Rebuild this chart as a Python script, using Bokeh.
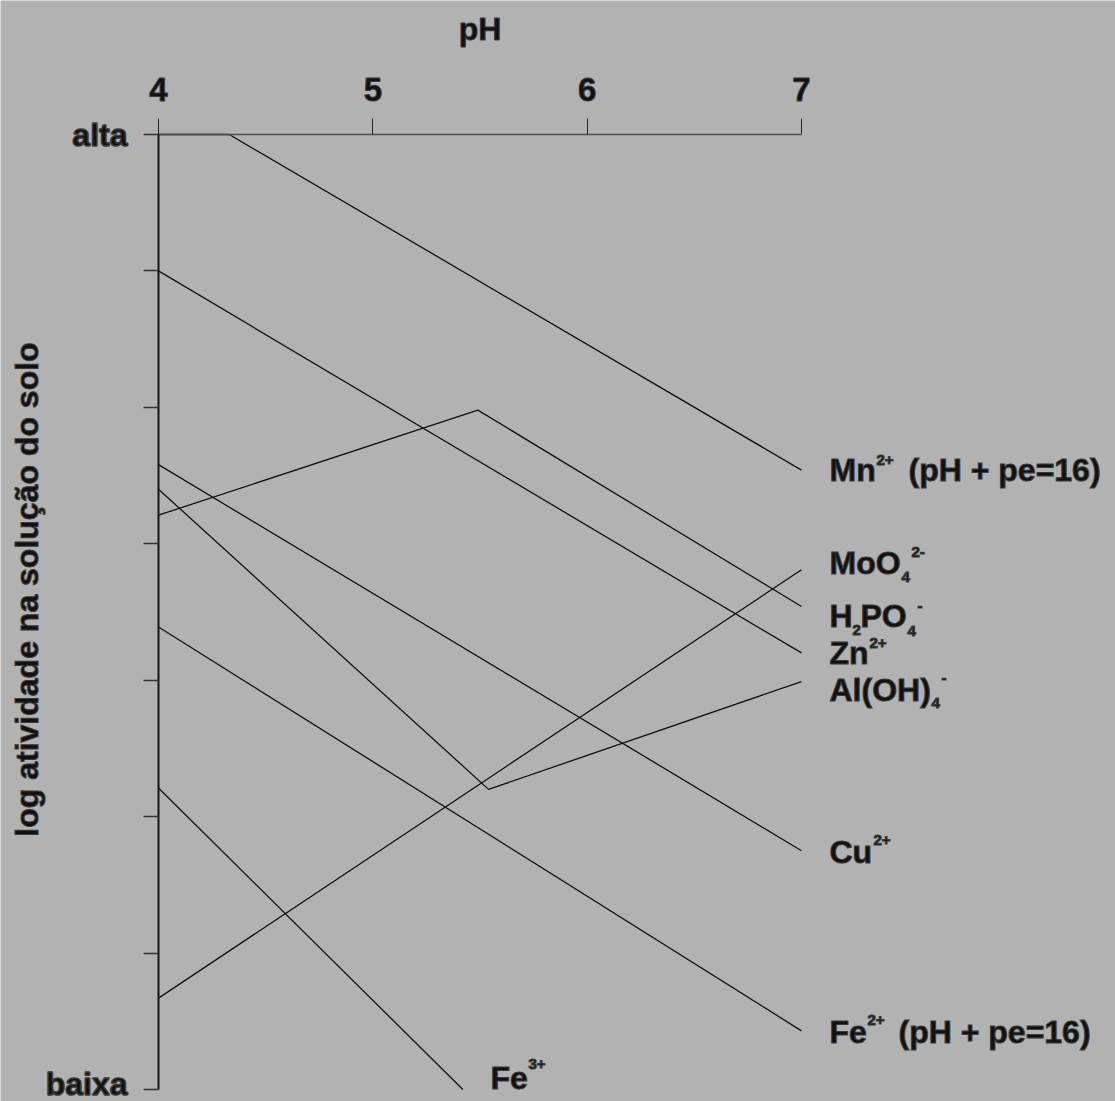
import numpy as np
from bokeh.plotting import figure
from bokeh.models import Range1d, FixedTicker, Label
from bokeh.embed import file_html
from bokeh.resources import INLINE

# ---- data ----
ph_ticks = [4, 5, 6, 7]
y_ticks = [0, 1, 2, 3, 4, 5, 6, 7]
y_tick_text = {0: "baixa", 7: "alta"}

mn_ph = [4.0, 4.33, 7.0]
mn_y = [7.0, 7.0, 4.54]
h2po4_ph = [4.0, 5.49, 7.0]
h2po4_y = [4.21, 4.98, 3.54]
zn_ph = [4.0, 7.0]
zn_y = [6.0, 3.20]
cu_ph = [4.0, 7.0]
cu_y = [4.58, 1.75]
al_ph = [4.0, 5.54, 7.0]
al_y = [4.40, 2.20, 2.99]
moo4_ph = [4.0, 7.0]
moo4_y = [0.67, 3.81]
fe2_ph = [4.0, 7.0]
fe2_y = [3.39, 0.43]
fe3_ph = [4.0, 5.42]
fe3_y = [2.21, 0.0]

series = [(mn_ph, mn_y), (h2po4_ph, h2po4_y), (zn_ph, zn_y), (cu_ph, cu_y),
          (al_ph, al_y), (moo4_ph, moo4_y), (fe2_ph, fe2_y), (fe3_ph, fe3_y)]

FONT = "Liberation Sans"
BG = "#b2b2b2"
INK = "#111111"
HALO = "#3a3a3a"
W, H = 1115, 1101

# layout: pixel positions of the axes (pH 4..7 and low..high)
AX_L, AX_R, AX_T, AX_B = 158.0, 801.0, 134.0, 1089.0
sx = (AX_R - AX_L) / 3.0
sy = (AX_B - AX_T) / 7.0
x_start = 4 - AX_L / sx
x_end = 4 + (W - AX_L) / sx
y_end = 7 + AX_T / sy
y_start = -(H - AX_B) / sy

def dx(px):
    return 4 + (px - AX_L) / sx
def dy(py):
    return (AX_B - py) / sy

p = figure(width=W, height=H,
           x_range=Range1d(x_start, x_end), y_range=Range1d(y_start, y_end),
           x_axis_location="above",
           output_backend="svg", toolbar_location=None,
           min_border=0, min_border_left=0, min_border_right=0,
           min_border_top=0, min_border_bottom=0)
p.background_fill_color = BG
p.border_fill_color = BG
p.outline_line_color = None
p.grid.visible = False

# x axis (top)
xa = p.xaxis[0]
xa.fixed_location = 7
xa.bounds = (4, 7)
xa.ticker = FixedTicker(ticks=ph_ticks)
xa.axis_label = "pH"
xa.axis_label_text_font = FONT
xa.axis_label_text_font_style = "bold"
xa.axis_label_text_font_size = "32px"
xa.axis_label_text_color = INK
xa.axis_label_text_outline_color = HALO
xa.axis_label_standoff = 28
xa.major_label_text_font = FONT
xa.major_label_text_font_style = "bold"
xa.major_label_text_font_size = "33px"
xa.major_label_text_color = INK
xa.major_label_text_outline_color = HALO
xa.major_label_standoff = 18
xa.major_tick_out = 16
xa.major_tick_in = 0
xa.minor_tick_line_color = None
xa.axis_line_color = "#505050"
xa.axis_line_width = 1.5
xa.major_tick_line_color = "#222222"

# y axis (left)
ya = p.yaxis[0]
ya.fixed_location = 4
ya.bounds = (0, 7)
ya.ticker = FixedTicker(ticks=y_ticks)
ya.major_label_overrides = {t: y_tick_text.get(t, "") for t in y_ticks}
ya.major_label_text_font = FONT
ya.major_label_text_font_style = "bold"
ya.major_label_text_font_size = "32px"
ya.major_label_text_color = INK
ya.major_label_text_outline_color = HALO
ya.major_label_standoff = 16
ya.major_tick_out = 15
ya.major_tick_in = 0
ya.minor_tick_line_color = None
ya.axis_line_color = "#151515"
ya.axis_line_width = 2
ya.major_tick_line_color = "#333333"
ya.major_tick_line_width = 1.5

for xs, ys in series:
    p.line(xs, ys, line_color=INK, line_width=1.3)

# y axis title
p.add_layout(Label(x=dx(26), y=dy(589), text="log atividade na solução do solo",
                   angle=np.pi / 2, text_align="center", text_baseline="middle",
                   text_font=FONT, text_font_style="bold", text_font_size="32px",
                   text_color=INK, text_outline_color=HALO))

# species labels: (left x, baseline y, pieces[(text, dx, rise, size)])
species_labels = [
    (829, 480, [("Mn", 0, 0, 32), ("2+", 47, 15, 15), ("(pH + pe=16)", 79, 0, 32)]),
    (829, 573, [("MoO", 0, 0, 32), ("4", 72, -9, 15), ("2-", 82, 16, 15)]),
    (829, 626, [("H", 0, 0, 32), ("2", 23, -9, 15), ("PO", 31, 0, 32), ("4", 78, -10, 15), ("-", 88, 15, 15)]),
    (829, 663, [("Zn", 0, 0, 32), ("2+", 40, 15, 15)]),
    (829, 700, [("Al(OH)", 0, 0, 32), ("4", 102, -8, 15), ("-", 112, 17, 15)]),
    (829, 862, [("Cu", 0, 0, 32), ("2+", 44, 17, 15)]),
    (829, 1042, [("Fe", 0, 0, 32), ("2+", 38, 17, 15), ("(pH + pe=16)", 69, 0, 32)]),
    (490, 1088, [("Fe", 0, 0, 32), ("3+", 38, 19, 15)]),
]
for bx, by, pieces in species_labels:
    for txt, ox, rise, size in pieces:
        p.add_layout(Label(x=dx(bx + ox), y=dy(by - rise - 0.34 * size), text=txt,
                           text_align="left", text_baseline="alphabetic",
                           text_font=FONT, text_font_style="bold",
                           text_font_size=f"{size}px", text_color=INK,
                           text_outline_color=HALO))

open("out.html", "w").write(file_html(p, INLINE))
